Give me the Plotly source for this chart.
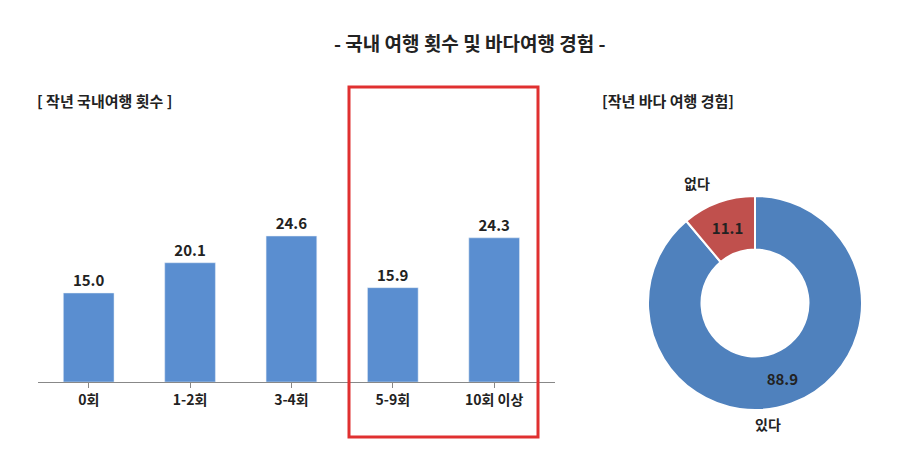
import plotly.graph_objects as go

trip_cats = ['0회', '1-2회', '3-4회', '5-9회', '10회 이상']
trip_vals = [15.0, 20.1, 24.6, 15.9, 24.3]
sea_labels = ['있다', '없다']
sea_vals = [88.9, 11.1]

W, H = 900, 465
# page body adds an 8px offset, compensate
def px(x): return (x - 8) / W
def py(y): return 1 - (y - 8) / H

fig = go.Figure()
fig.add_trace(go.Bar(
    x=trip_cats, y=trip_vals, width=0.5,
    marker=dict(color='#5A8ED0'),
    text=['<b>%.1f</b>' % v for v in trip_vals], textposition='outside',
    textfont=dict(size=15, color='#222', family='Noto Sans CJK KR'),
    cliponaxis=False, showlegend=False,
))
fig.add_trace(go.Pie(
    labels=sea_labels, values=sea_vals, hole=0.5, sort=False,
    direction='clockwise', rotation=0,
    marker=dict(colors=['#4F81BD', '#C0504D'], line=dict(color='white', width=2)),
    text=['<b>%.1f</b>' % v for v in sea_vals], textinfo='text', textposition='inside',
    insidetextorientation='horizontal',
    textfont=dict(size=15, color='#222', family='Noto Sans CJK KR'),
    domain=dict(x=[px(648), px(862)], y=[py(410), py(196)]),
    showlegend=False,
))

fig.update_layout(
    width=W, height=H, margin=dict(l=0, r=0, t=0, b=0),
    plot_bgcolor='white', paper_bgcolor='white',
    font=dict(family='Noto Sans CJK KR', size=14, color='#222'),
    xaxis=dict(domain=[px(38), px(555)], range=[-0.5, 4.6], showline=True,
               linecolor='#888', ticks='outside', tickcolor='#888', ticklen=5,
               tickvals=trip_cats, ticktext=['<b>%s</b>' % c for c in trip_cats],
               tickfont=dict(size=14, color='#222')),
    yaxis=dict(domain=[py(382), py(204)], range=[0, 30], visible=False),
    bargap=0.5,
)

fig.add_annotation(x=px(470), y=py(42), xref='paper', yref='paper', showarrow=False,
                   yanchor='middle', text='<b>- 국내 여행 횟수 및 바다여행 경험 -</b>', font=dict(size=19))
fig.add_annotation(x=px(35), y=py(101), xref='paper', yref='paper', showarrow=False,
                   xanchor='left', yanchor='middle', text='<b>[ 작년 국내여행 횟수 ]</b>', font=dict(size=15))
fig.add_annotation(x=px(736), y=py(101), xref='paper', yref='paper', showarrow=False,
                   yanchor='middle', text='<b>[작년 바다 여행 경험]</b>', font=dict(size=15))
fig.add_annotation(x=px(712), y=py(183), xref='paper', yref='paper', showarrow=False,
                   yanchor='middle', text='<b>없다</b>', font=dict(size=14))
fig.add_annotation(x=px(783), y=py(424), xref='paper', yref='paper', showarrow=False,
                   yanchor='middle', text='<b>있다</b>', font=dict(size=14))
fig.add_shape(type='rect', xref='paper', yref='paper',
              x0=px(349), x1=px(538), y0=py(437), y1=py(87),
              line=dict(color='#E03030', width=3))

fig.write_html('out.html')
